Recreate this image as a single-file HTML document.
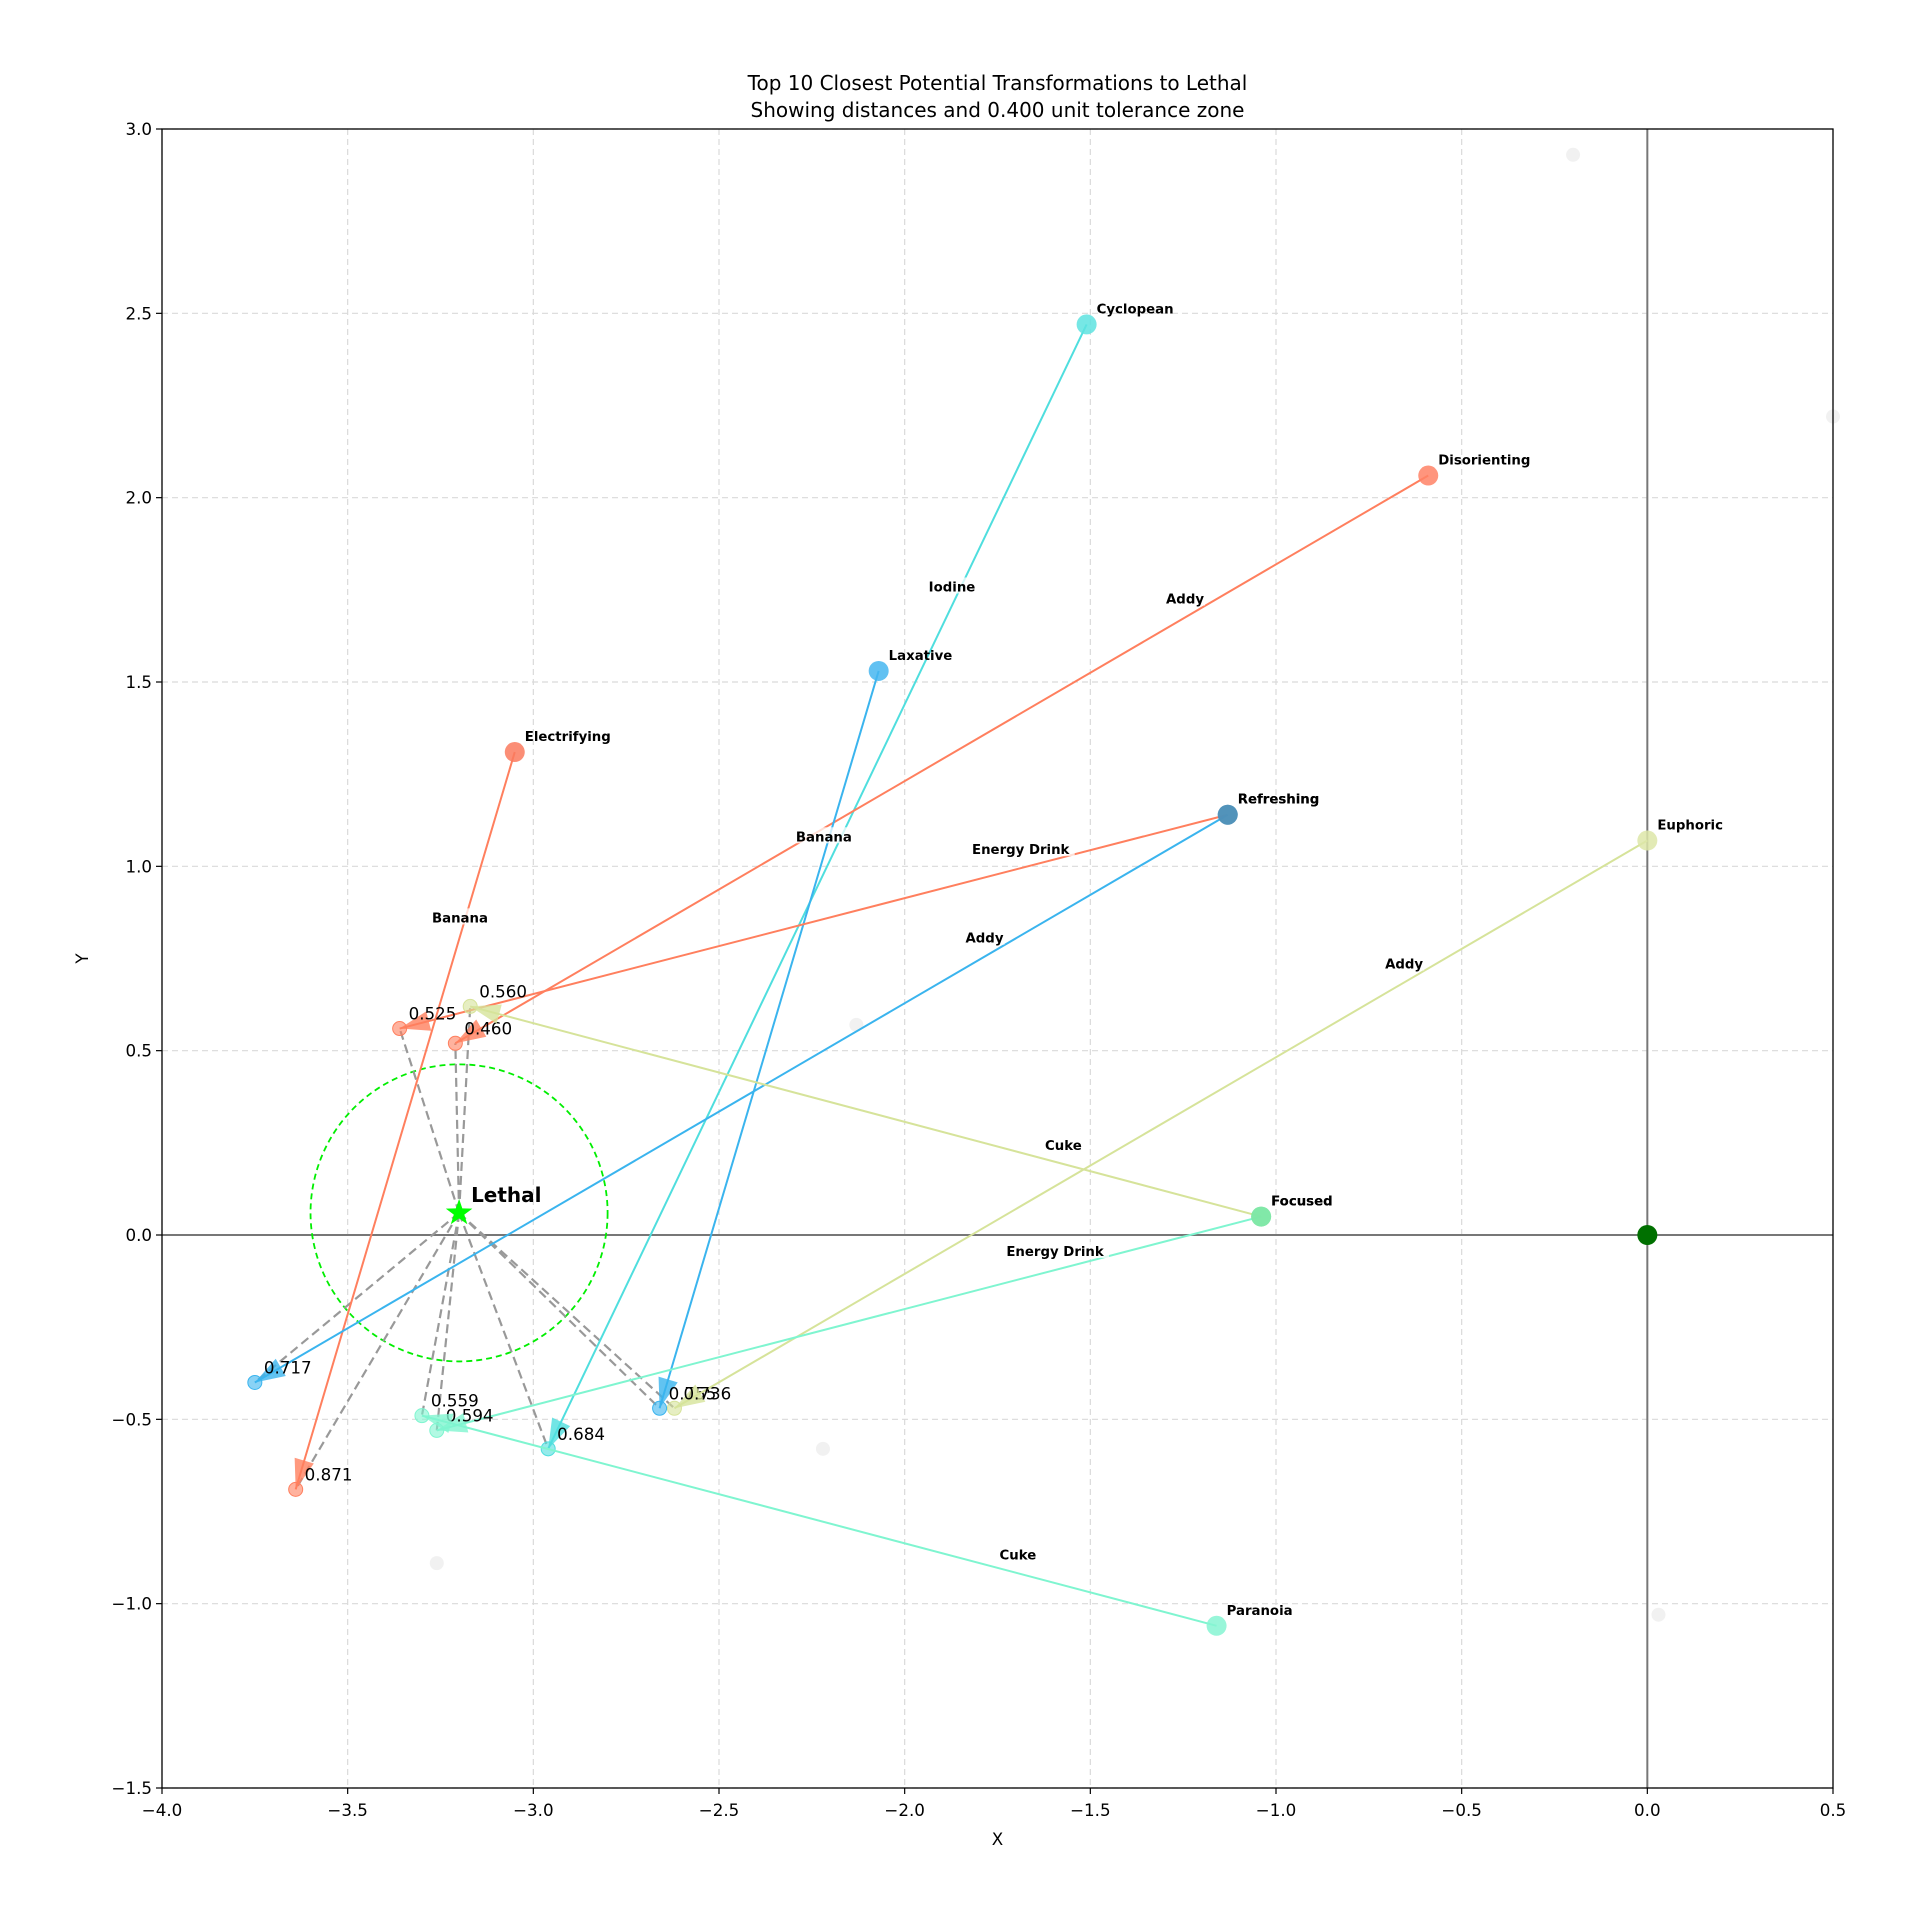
<!DOCTYPE html>
<html><head><meta charset="utf-8"><style>
body{margin:0;background:#fff}
svg{display:block;font-family:"DejaVu Sans","Liberation Sans",sans-serif}
</style></head><body>
<svg id="chart" width="1920" height="1922" viewBox="0 0 1920 1922" xmlns="http://www.w3.org/2000/svg"></svg>
<script>
const effectNames = ["Cyclopean","Disorienting","Laxative","Electrifying","Refreshing","Refreshing","Euphoric","Focused","Focused","Paranoia"];
const ingredients = ["Iodine","Addy","Banana","Banana","Energy Drink","Addy","Addy","Cuke","Energy Drink","Cuke"];
const startX = [-1.51,-0.59,-2.07,-3.05,-1.13,-1.13,0.0,-1.04,-1.04,-1.16];
const startY = [2.47,2.06,1.53,1.31,1.14,1.14,1.07,0.05,0.05,-1.06];
const endX = [-2.96,-3.21,-2.66,-3.64,-3.36,-3.75,-2.62,-3.17,-3.26,-3.30];
const endY = [-0.58,0.52,-0.47,-0.69,0.56,-0.40,-0.47,0.62,-0.53,-0.49];
const distances = ["0.684","0.460","0.755","0.871","0.525","0.717","0.736","0.560","0.594","0.559"];
const lineColors = ["#4fdede","#ff7f5e","#3ab4ee","#ff7f5e","#ff7f5e","#3ab4ee","#d6e39a","#d6e39a","#7ff5d0","#7ff5d0"];
const startColors = ["#5ee3e0","#ff8366","#45b6f0","#fa7a5e","#4f90b8","#4f90b8","#dde6a8","#7ee8a6","#7ee8a6","#86f5d2"];
const ghostX = [-0.2,-2.13,-2.22,-3.26,0.03,0.5];
const ghostY = [2.93,0.57,-0.58,-0.89,-1.03,2.22];
const lethal = [-3.2,0.06];
const tolerance = 0.4;
const xTicks = [-4.0,-3.5,-3.0,-2.5,-2.0,-1.5,-1.0,-0.5,0.0,0.5];
const yTicks = [-1.5,-1.0,-0.5,0.0,0.5,1.0,1.5,2.0,2.5,3.0];

const L=162,R=1833,T=129,B=1788,xmin=-4,xmax=0.5,ymin=-1.5,ymax=3;
const sx=v=>L+(v-xmin)/(xmax-xmin)*(R-L);
const sy=v=>B-(v-ymin)/(ymax-ymin)*(B-T);
const svg=document.getElementById('chart');
const NS='http://www.w3.org/2000/svg';
function mk(tag,attrs,parent){const e=document.createElementNS(NS,tag);for(const k in attrs)e.setAttribute(k,attrs[k]);(parent||svg).appendChild(e);return e;}

xTicks.forEach(t=>{const g=mk('line',{x1:sx(t),x2:sx(t),y1:T,y2:B,stroke:'#dadada','stroke-dasharray':'6,4','stroke-width':1.2});

});
yTicks.forEach(t=>{const g=mk('line',{x1:L,x2:R,y1:sy(t),y2:sy(t),stroke:'#dadada','stroke-dasharray':'6,4','stroke-width':1.2});

});
let z=mk('line',{x1:L,x2:R,y1:sy(0),y2:sy(0),stroke:'#777','stroke-width':2});


z=mk('line',{x1:sx(0),x2:sx(0),y1:T,y2:B,stroke:'#777','stroke-width':2});



ghostX.forEach((gx,i)=>{const c=mk('circle',{cx:sx(gx),cy:sy(ghostY[i]),r:7,fill:'#e8e8e8','fill-opacity':0.6});

});

const tc=mk('circle',{cx:sx(lethal[0]),cy:sy(lethal[1]),r:(sx(tolerance)-sx(0)),fill:'none',stroke:'#00ee00','stroke-dasharray':'6,4','stroke-width':1.8});



endX.forEach((ex,i)=>{const d=mk('line',{x1:sx(lethal[0]),y1:sy(lethal[1]),x2:sx(ex),y2:sy(endY[i]),stroke:'#999','stroke-width':2.2,'stroke-dasharray':'9,5'});

});

startX.forEach((s,i)=>{
  const x1=sx(s),y1=sy(startY[i]),x2=sx(endX[i]),y2=sy(endY[i]);
  const l=mk('line',{x1,y1,x2,y2,stroke:lineColors[i],'stroke-width':2});
  
  
  const dx=x2-x1,dy=y2-y1,len=Math.hypot(dx,dy),ux=dx/len,uy=dy/len,px=-uy,py=ux;
  const hl=30,hw=10,bx=x2-ux*hl,by=y2-uy*hl;
  const h=mk('polygon',{points:`${x2},${y2} ${bx+px*hw},${by+py*hw} ${bx-px*hw},${by-py*hw}`,fill:lineColors[i],'fill-opacity':0.8});
  
  
  const ec=mk('circle',{cx:x2,cy:y2,r:7,fill:lineColors[i],'fill-opacity':0.6,stroke:lineColors[i],'stroke-width':1});
  
  
  const lx=x1+dx*0.25,ly=y1+dy*0.25-18;
  const w=ingredients[i].length*8.5+6;
  const bg=mk('rect',{x:lx-w/2,y:ly-10,width:w,height:16,fill:'#fff','fill-opacity':0.75});
  
  
  const t=mk('text',{x:lx,y:ly+4,'text-anchor':'middle','font-size':13.3,'font-weight':'bold',fill:'#000'});
  t.textContent=ingredients[i];
  
  
  const dt=mk('text',{x:x2+9,y:y2-9,'font-size':16.7,fill:'#000'});
  dt.textContent=distances[i];
  
  
});
startX.forEach((s,i)=>{
  const c=mk('circle',{cx:sx(s),cy:sy(startY[i]),r:10,fill:startColors[i],'fill-opacity':0.85});
  
  
  const t=mk('text',{x:sx(s)+10,y:sy(startY[i])-11,'font-size':13.3,'font-weight':'bold',fill:'#000'});
  t.textContent=effectNames[i];
  
  
});
const o=mk('circle',{cx:sx(0),cy:sy(0),r:10,fill:'#007000'});


(function(){const cx=sx(lethal[0]),cy=sy(lethal[1]);let pts=[];for(let k=0;k<10;k++){const a=-Math.PI/2+k*Math.PI/5,r=k%2?5.5:14;pts.push((cx+r*Math.cos(a)).toFixed(1)+','+(cy+r*Math.sin(a)).toFixed(1));}
const s=mk('polygon',{points:pts.join(' '),fill:'#00ff00'});


const t=mk('text',{x:cx+12,y:cy-11,'font-size':20,'font-weight':'bold',fill:'#000'});
t.textContent='Lethal';

})();

const fr=mk('rect',{x:L,y:T,width:R-L,height:B-T,fill:'none',stroke:'#000','stroke-width':1.3});


xTicks.forEach(t=>{const k=mk('line',{x1:sx(t),x2:sx(t),y1:B,y2:B+6,stroke:'#000','stroke-width':1.2});


const lb=mk('text',{x:sx(t),y:B+28,'text-anchor':'middle','font-size':16.7,fill:'#000'});
lb.textContent=t.toFixed(1).replace('-','\u2212');

});
yTicks.forEach(t=>{const k=mk('line',{x1:L-6,x2:L,y1:sy(t),y2:sy(t),stroke:'#000','stroke-width':1.2});


const lb=mk('text',{x:L-10,y:sy(t)+6,'text-anchor':'end','font-size':16.7,fill:'#000'});
lb.textContent=t.toFixed(1).replace('-','\u2212');

});
let tt=mk('text',{x:(L+R)/2,y:90,'text-anchor':'middle','font-size':20,fill:'#000'});
tt.textContent='Top 10 Closest Potential Transformations to Lethal';


tt=mk('text',{x:(L+R)/2,y:117,'text-anchor':'middle','font-size':20,fill:'#000'});
tt.textContent='Showing distances and 0.400 unit tolerance zone';


tt=mk('text',{x:(L+R)/2,y:1845,'text-anchor':'middle','font-size':16.7,fill:'#000'});
tt.textContent='X';


tt=mk('text',{x:88,y:(T+B)/2,'text-anchor':'middle','font-size':16.7,fill:'#000',transform:`rotate(-90 88 ${(T+B)/2})`});
tt.textContent='Y';


</script>
</body></html>
